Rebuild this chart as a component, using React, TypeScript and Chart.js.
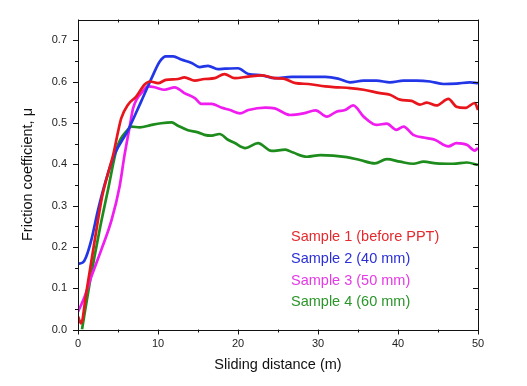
import React, { useEffect, useRef } from "react";
import { Chart, registerables } from "chart.js";

Chart.register(...registerables);

const FONT = "'Liberation Sans', Arial, Helvetica, sans-serif";

const xTicks = [0, 10, 20, 30, 40, 50];
const yTicks = [0, 0.1, 0.2, 0.3, 0.4, 0.5, 0.6, 0.7];
const xMinorTicks = [5, 15, 25, 35, 45];
const yMinorTicks = [0.05, 0.15, 0.25, 0.35, 0.45, 0.55, 0.65];

const seriesLabels = [
  "Sample 1 (before PPT)",
  "Sample 2 (40 mm)",
  "Sample 3 (50 mm)",
  "Sample 4 (60 mm)",
];
const seriesColors = ["#e8161c", "#2236e8", "#f01cf0", "#1d8c1d"];
const legendColors = ["#e42a2e", "#2b2fd6", "#e63ae6", "#2a962a"];

const s1X = [0, 0.4, 1.0, 2.0, 3.0, 4.0, 4.4, 5.0, 5.4, 6.25, 7.3, 8.3, 9.0, 10.0, 11.0, 12.5, 13.3, 14.6, 15.8, 17.1, 18.3, 19.6, 21.3, 23.0, 24.6, 25.7, 27.2, 28.8, 30.9, 32.5, 34.0, 35.7, 37.75, 39.0, 40.25, 41.7, 42.75, 43.6, 44.8, 46.3, 47.3, 48.4, 49.6, 50];
const s1Y = [0.031, 0.015, 0.085, 0.205, 0.32, 0.395, 0.4225, 0.478, 0.511, 0.544, 0.564, 0.592, 0.6, 0.596, 0.604, 0.606, 0.61, 0.602, 0.606, 0.608, 0.618, 0.608, 0.612, 0.615, 0.608, 0.607, 0.596, 0.594, 0.588, 0.586, 0.584, 0.58, 0.572, 0.568, 0.556, 0.553, 0.544, 0.549, 0.542, 0.558, 0.539, 0.536, 0.548, 0.531];

const s2X = [0, 0.6, 1.0, 1.67, 2.5, 3.5, 4.6, 6.25, 7.9, 9.2, 10.2, 11.0, 11.9, 12.9, 14.2, 15.2, 16.25, 17.5, 18.4, 20.0, 21.3, 23.0, 24.6, 26.7, 28.4, 30.9, 32.5, 34.0, 35.7, 37.3, 39.0, 40.7, 42.3, 44.0, 45.7, 47.3, 49.0, 50];
const s2Y = [0.159, 0.162, 0.175, 0.217, 0.289, 0.362, 0.425, 0.482, 0.552, 0.608, 0.648, 0.661, 0.661, 0.653, 0.645, 0.635, 0.638, 0.63, 0.631, 0.632, 0.618, 0.615, 0.608, 0.611, 0.611, 0.611, 0.607, 0.598, 0.602, 0.602, 0.598, 0.602, 0.602, 0.6, 0.594, 0.595, 0.598, 0.596];

const s3X = [0, 0.83, 1.67, 2.9, 4.2, 5.2, 5.8, 6.5, 6.9, 8.1, 8.75, 9.6, 10.8, 12.1, 13.3, 14.6, 15.4, 16.7, 17.9, 19.0, 20.25, 21.3, 23.4, 24.6, 26.5, 28.2, 29.7, 31.1, 32.3, 33.4, 34.4, 35.7, 37.3, 38.6, 39.8, 40.7, 41.9, 43.6, 44.6, 46.3, 47.3, 48.6, 49.6, 50];
const s3Y = [0.043, 0.079, 0.128, 0.192, 0.265, 0.346, 0.42, 0.495, 0.536, 0.576, 0.588, 0.586, 0.58, 0.586, 0.572, 0.56, 0.546, 0.546, 0.537, 0.531, 0.523, 0.531, 0.537, 0.535, 0.519, 0.523, 0.53, 0.515, 0.527, 0.531, 0.542, 0.515, 0.495, 0.498, 0.483, 0.491, 0.471, 0.463, 0.459, 0.443, 0.451, 0.447, 0.433, 0.439];

const s4X = [0.5, 1.46, 2.7, 3.75, 4.8, 5.3, 6.04, 6.7, 7.7, 9.2, 10.4, 11.7, 12.5, 13.75, 15.0, 15.8, 16.7, 17.7, 18.75, 19.6, 20.9, 22.5, 24.2, 25.9, 26.9, 28.6, 30.3, 33.6, 35.25, 37.1, 38.6, 40.25, 41.9, 43.2, 44.8, 46.9, 48.6, 50];
const s4Y = [0, 0.112, 0.241, 0.338, 0.435, 0.46, 0.479, 0.491, 0.489, 0.495, 0.499, 0.501, 0.493, 0.482, 0.477, 0.471, 0.469, 0.473, 0.459, 0.451, 0.439, 0.451, 0.432, 0.435, 0.428, 0.418, 0.422, 0.417, 0.41, 0.402, 0.412, 0.406, 0.401, 0.406, 0.402, 0.401, 0.404, 0.398];

const seriesX = [s1X, s2X, s3X, s4X];
const seriesY = [s1Y, s2Y, s3Y, s4Y];

const framePlugin = {
  id: "frameTicks",
  afterDraw(chart: any) {
    const ctx = chart.ctx;
    const { left, right, top, bottom } = chart.chartArea;
    const xs = chart.scales.x;
    const ys = chart.scales.y;
    ctx.save();
    ctx.strokeStyle = "#111";
    ctx.lineWidth = 1;
    ctx.beginPath();
    ctx.rect(Math.round(left) + 0.5, Math.round(top) + 0.5, Math.round(right - left), Math.round(bottom - top));
    ctx.stroke();
    const major = 5;
    const minor = 3;
    ctx.beginPath();
    const xt = (v: number, len: number) => {
      const px = Math.round(xs.getPixelForValue(v)) + 0.5;
      ctx.moveTo(px, bottom);
      ctx.lineTo(px, bottom + len);
      ctx.moveTo(px, top);
      ctx.lineTo(px, top + len);
    };
    const yt = (v: number, len: number) => {
      const py = Math.round(ys.getPixelForValue(v)) + 0.5;
      ctx.moveTo(left, py);
      ctx.lineTo(left - len, py);
      ctx.moveTo(right, py);
      ctx.lineTo(right - len, py);
    };
    xTicks.forEach((v) => xt(v, major));
    xMinorTicks.forEach((v) => xt(v, minor));
    yTicks.forEach((v) => yt(v, major));
    yMinorTicks.forEach((v) => yt(v, minor));
    ctx.stroke();

    // legend text
    ctx.font = `14.5px ${FONT}`;
    ctx.textBaseline = "middle";
    ctx.textAlign = "left";
    const lx = 291;
    const ly0 = 237;
    const step = 21.8;
    chart.data.datasets.forEach((ds: any, i: number) => {
      ctx.fillStyle = legendColors[i];
      ctx.fillText(ds.label, lx, ly0 + i * step);
    });
    ctx.restore();
  },
};

export default function App() {
  const ref = useRef<HTMLCanvasElement | null>(null);
  useEffect(() => {
    if (!ref.current) return;
    const datasets = seriesLabels.map((label, i) => ({
      label,
      data: seriesX[i].map((x, j) => ({ x, y: seriesY[i][j] })),
      borderColor: seriesColors[i],
      backgroundColor: seriesColors[i],
      borderWidth: 2.7,
      pointRadius: 0,
      cubicInterpolationMode: "monotone" as const,
      fill: false,
    }));
    const chart = new Chart(ref.current, {
      type: "line",
      data: { datasets },
      options: {
        animation: false,
        responsive: true,
        maintainAspectRatio: false,
        layout: { padding: { top: 19.5, right: 49, left: 0, bottom: 0 } },
        plugins: { legend: { display: false }, tooltip: { enabled: false } },
        scales: {
          x: {
            type: "linear",
            min: 0,
            max: 50,
            afterFit: (s: any) => {
              s.height = 56.5;
            },
            afterBuildTicks: (s: any) => {
              s.ticks = xTicks.map((v) => ({ value: v }));
            },
            grid: { display: false, drawTicks: false },
            border: { display: false },
            ticks: {
              padding: 8,
              color: "#222",
              font: { family: FONT, size: 11 },
              maxRotation: 0,
              callback: (v: any) => String(v),
            },
            title: {
              display: true,
              text: "Sliding distance (m)",
              color: "#111",
              font: { family: FONT, size: 14.5 },
              padding: { top: 0, bottom: 12 },
            },
          },
          y: {
            type: "linear",
            min: 0,
            max: 0.75,
            afterFit: (s: any) => {
              s.width = 78;
            },
            afterBuildTicks: (s: any) => {
              s.ticks = yTicks.map((v) => ({ value: v }));
            },
            grid: { display: false, drawTicks: false },
            border: { display: false },
            ticks: {
              padding: 11,
              color: "#222",
              font: { family: FONT, size: 11 },
              callback: (v: any) => Number(v).toFixed(1),
            },
            title: {
              display: true,
              text: "Friction coefficient, μ",
              color: "#111",
              font: { family: FONT, size: 14.5 },
              padding: { top: 19, bottom: 0 },
            },
          },
        },
      },
      plugins: [framePlugin],
    });
    return () => chart.destroy();
  }, []);
  return (
    <div style={{ position: "absolute", left: 0, top: 0, width: 527, height: 386, background: "#fff" }}>
      <canvas ref={ref} style={{ display: "block" }} />
    </div>
  );
}
